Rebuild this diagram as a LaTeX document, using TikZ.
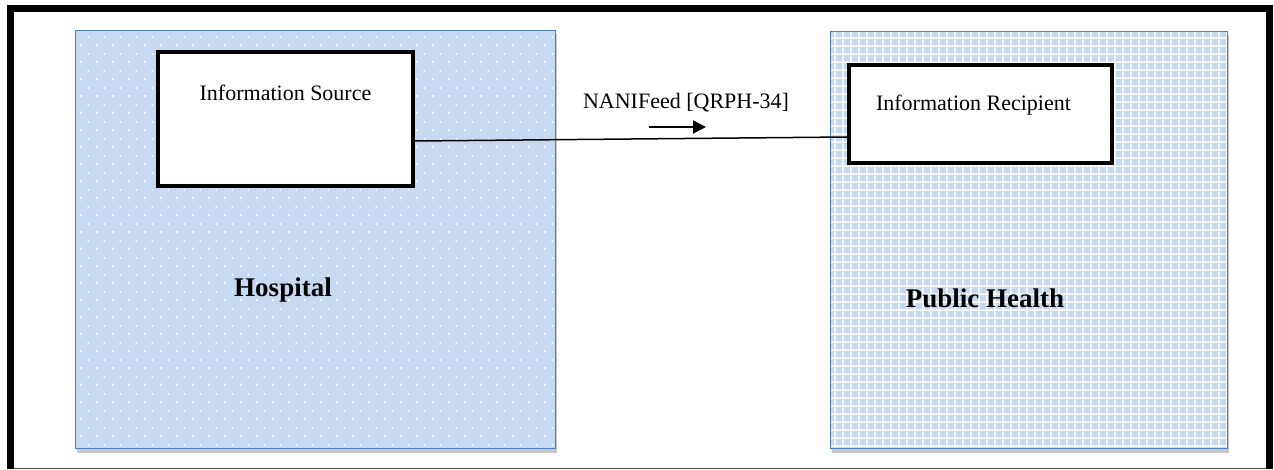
\documentclass[tikz,border=0pt]{standalone}
\usepackage{fontspec}
\setmainfont{Liberation Serif}
\usetikzlibrary{arrows.meta,patterns,shadows}

\definecolor{panelblue}{RGB}{198,217,240}
\definecolor{paneledge}{RGB}{79,129,189}
\definecolor{shadowgray}{RGB}{200,200,200}

% white dots on the hospital side, white grid on the public health side
\pgfdeclarepatternformonly{sparsedots}{\pgfqpoint{0pt}{0pt}}{\pgfqpoint{16pt}{16.6pt}}{\pgfqpoint{16pt}{16.6pt}}{%
  \pgfpathrectangle{\pgfqpoint{0pt}{0pt}}{\pgfqpoint{1.8pt}{1.8pt}}%
  \pgfpathrectangle{\pgfqpoint{8pt}{8.3pt}}{\pgfqpoint{1.8pt}{1.8pt}}%
  \pgfusepath{fill}}
\pgfdeclarepatternformonly{smallgrid}{\pgfqpoint{0pt}{0pt}}{\pgfqpoint{7.8pt}{7.8pt}}{\pgfqpoint{7.8pt}{7.8pt}}{%
  \pgfpathrectangle{\pgfqpoint{0pt}{0pt}}{\pgfqpoint{7.8pt}{1.6pt}}%
  \pgfpathrectangle{\pgfqpoint{0pt}{0pt}}{\pgfqpoint{1.6pt}{7.8pt}}%
  \pgfusepath{fill}}

\begin{document}
\begin{tikzpicture}[x=1pt,y=-1pt,
  area/.style={draw=paneledge,line width=1.5pt,inner sep=0pt,
    drop shadow={shadow xshift=1pt,shadow yshift=-4pt,fill=shadowgray,opacity=1},
    preaction={fill=panelblue},pattern color=white},
  party node/.style={draw,line width=4pt,fill=white,inner sep=0pt},
  small/.style={font=\fontsize{22}{26}\selectfont},
  big/.style={font=\fontsize{27}{32}\selectfont\bfseries}]

  \useasboundingbox (0,0) rectangle (1274,470);

  % page frame
  \draw[black!70,line width=1pt] (7,468.5) -- (1273,468.5);
  \draw[line width=7pt] (10.5,469) -- (10.5,9) -- (1269.5,9) -- (1269.5,469);

  \node[area,pattern=sparsedots,minimum width=480pt,minimum height=418pt] (hospital) at (315.5,239.5) {};
  \node[area,pattern=smallgrid,minimum width=397pt,minimum height=417pt] (publichealth) at (1029,240) {};
  \node[party node,minimum width=255pt,minimum height=134pt] (source) at (285.5,119) {};
  \node[party node,minimum width=263pt,minimum height=98pt] (recipient) at (980.5,114) {};

  \node[small,anchor=base] (sourcelabel) at ([yshift=-50.7pt]source.north) {Information Source};
  \node[small,anchor=base] (recipientlabel) at ([xshift=-7pt,yshift=-47.7pt]recipient.north) {Information Recipient};
  \node[big,anchor=base] (hospitallabel) at (283,297) {Hospital};
  \node[big,anchor=base] (publichealthlabel) at (985,307) {Public Health};

  \draw[line width=1.5pt] ([yshift=-22pt]source.east) -- ([yshift=-23pt]recipient.west);

  \node[small,anchor=base] (feedlabel) at (686,108.3) {NANIFeed [QRPH-34]};
  \coordinate (flowtail) at (649,127);
  \coordinate (flowhead) at (706,127);
  \draw[line width=2pt,-{Triangle[length=13pt,width=13pt]}] (flowtail) -- (flowhead);
\end{tikzpicture}
\end{document}
